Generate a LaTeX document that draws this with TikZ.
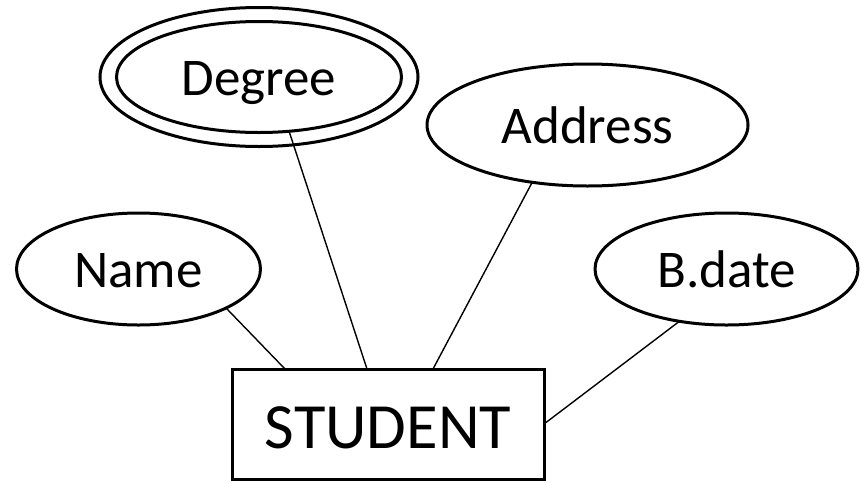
\documentclass[tikz,border=0pt]{standalone}
\usepackage{fontspec}
\setmainfont{Carlito}
\usetikzlibrary{shapes.geometric}
\begin{document}
\begin{tikzpicture}[x=1pt,y=-1pt,
  attr/.style={ellipse, draw, line width=3pt, inner sep=0pt, outer sep=0pt,
    font=\fontsize{53}{62}\selectfont, text height=37pt, text depth=0pt},
  ring/.style={ellipse, draw, line width=3pt, inner sep=0pt, outer sep=0pt},
  entity/.style={rectangle, draw, line width=3pt, inner sep=0pt, outer sep=0pt,
    minimum width=312pt, minimum height=110pt,
    font=\fontsize{64.5}{74}\selectfont, text height=49pt, text depth=0pt},
  link/.style={line width=1.4pt}]
\useasboundingbox (0,0) rectangle (866,482);
\fill[white] (0,0) rectangle (866,482);

% entity
\node[entity] (student) at (388,424) {STUDENT};

% attributes
\node[ring, minimum width=318pt, minimum height=139pt] (degreering) at (259,77) {};
\node[attr, minimum width=285pt, minimum height=111pt] (degree) at (259,77) {Degree};
\node[attr, minimum width=321pt, minimum height=122pt] (address) at (587.5,125) {Address};
\node[attr, minimum width=244pt, minimum height=112pt] (name) at (138.5,269) {Name};
\node[attr, minimum width=263pt, minimum height=112pt] (bdate) at (726.5,269) {B.date};

% connectors
\draw[link] (name.-24.8) -- ([xshift=53pt]student.north west);
\draw[link] (degree.-61.6) -- ([xshift=135pt]student.north west);
\draw[link] (address.-134) -- ([xshift=201pt]student.north west);
\draw[link] (bdate.-132.5) -- (student.east);
\end{tikzpicture}
\end{document}
